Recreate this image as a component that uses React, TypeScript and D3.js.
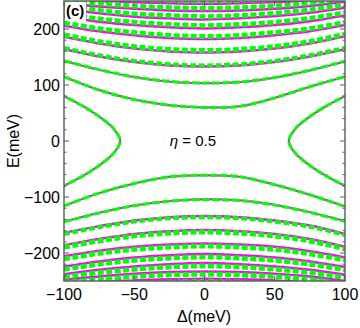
import React from "react";
import * as d3 from "d3";

// Δ sample points (meV)
const deltas = [-100, -75, -50, -25, 0, 25, 50, 75, 100];

// Upper levels E(Δ) in meV (magenta, exact)
const upperLevels = [
  [115, 91, 74, 64, 60, 62, 77, 97, 115],
  [143, 127, 114, 106, 103, 105, 113, 126, 142],
  [164, 151, 141, 135, 133, 135, 141, 151, 164],
  [186, 174, 165, 160, 158, 160, 165, 174, 187],
  [206, 196, 189, 184, 182, 184, 189, 196, 207],
  [222, 213, 207, 203, 201, 203, 207, 214, 224],
  [236, 228, 222, 219, 217, 219, 223, 229, 238],
  [246, 240, 236, 233, 232, 233, 236, 241, 249],
  [256, 251, 248, 246, 245, 246, 248, 252, 259],
];

// Lower levels E(Δ) in meV
const lowerLevels = [
  [-116, -93, -76, -64, -61, -64, -78, -96, -117],
  [-144, -128, -115, -107, -104, -106, -114, -127, -143],
  [-164, -152, -142, -136, -134, -136, -142, -151, -166],
  [-186, -175, -166, -161, -159, -161, -166, -175, -189],
  [-206, -196, -189, -185, -183, -185, -189, -197, -208],
  [-224, -215, -208, -204, -202, -204, -208, -215, -225],
  [-238, -230, -224, -220, -218, -220, -224, -230, -239],
  [-248, -242, -237, -234, -233, -234, -237, -242, -250],
  [-258, -252, -249, -247, -246, -247, -249, -253, -260],
];

// shift (meV) of the green dashed approximation away from zero, per level
const greenShift = [0, 0.5, 2, 3.5, 4.5, 5, 5, 5, 5];

// Hyperbola-like zero-mode branches: Δ(E)
const hypE = [-84, -60, -40, -20, 0, 20, 40, 60, 84];
const hypLeftD = [-103, -85, -73, -64, -60, -64, -73, -85, -103];
const hypRightD = [103, 85, 73, 64, 60, 64, 73, 85, 103];

const xTicksMajor = [-100, -50, 0, 50, 100];
const yTicksMajor = [-200, -100, 0, 100, 200];

const MAGENTA = "#ff00ff";
const GREEN = "#00ff00";
const FRAME = "#5a5a5a";
const FONT = "'Liberation Sans', Arial, sans-serif";

const fmt = (v: number) => (v < 0 ? "\u2212" + Math.abs(v) : String(v));

export default function App() {
  const left = 64, right = 345, top = 1, bottom = 281;
  const x = d3.scaleLinear().domain([-100, 100]).range([left, right]);
  const y = d3.scaleLinear().domain([-250, 250]).range([bottom, top]);

  const levelLine = (vals: number[], shift: number) =>
    d3
      .line<number>()
      .x((_, i) => x(deltas[i]))
      .y((d) => y(d + Math.sign(d) * shift))
      .curve(d3.curveCatmullRom)(vals) || "";

  const hypLine = (ds: number[]) =>
    d3
      .line<number>()
      .x((d) => x(d))
      .y((_, i) => y(hypE[i]))
      .curve(d3.curveCatmullRom)(ds) || "";

  const greenWidth = (i: number) => (i <= 1 ? 3 : i === 2 ? 4 : 5);
  const magentaWidth = (i: number) => (i <= 1 ? 2 : 2.5);
  const dash = (i: number) => (i <= 1 ? "8,2" : "6,2.5");

  const xMinor = d3.range(-100, 101, 10);
  const yMinor = d3.range(-240, 241, 20);

  const allLevels = [...upperLevels.map((v, i) => ({ v, i })), ...lowerLevels.map((v, i) => ({ v, i }))];

  return (
    <svg
      width={360}
      height={328}
      style={{ position: "absolute", left: 0, top: 0, background: "#fff" }}
      fontFamily={FONT}
    >
      <defs>
        <clipPath id="plotclip">
          <rect x={left} y={top} width={right - left} height={bottom - top} />
        </clipPath>
      </defs>
      <rect x={0} y={0} width={360} height={328} fill="#fff" />
      <g clipPath="url(#plotclip)">
        {allLevels.map(({ v, i }, k) => (
          <path key={"m" + k} d={levelLine(v, 0)} fill="none" stroke={MAGENTA} strokeWidth={magentaWidth(i)} />
        ))}
        <path d={hypLine(hypLeftD)} fill="none" stroke={MAGENTA} strokeWidth={2} />
        <path d={hypLine(hypRightD)} fill="none" stroke={MAGENTA} strokeWidth={2} />
        {allLevels.map(({ v, i }, k) => (
          <path
            key={"g" + k}
            d={levelLine(v, greenShift[i])}
            fill="none"
            stroke={GREEN}
            strokeWidth={greenWidth(i)}
            strokeDasharray={dash(i)}
          />
        ))}
        <path d={hypLine(hypLeftD)} fill="none" stroke={GREEN} strokeWidth={3} strokeDasharray="8,2" />
        <path d={hypLine(hypRightD)} fill="none" stroke={GREEN} strokeWidth={3} strokeDasharray="8,2" />
      </g>

      {/* frame */}
      <rect x={left} y={top} width={right - left} height={bottom - top} fill="none" stroke={FRAME} strokeWidth={1.4} />

      {/* x ticks */}
      {xMinor.map((t) => {
        const major = xTicksMajor.includes(t);
        const len = major ? 5 : 2.5;
        return (
          <g key={"xt" + t} stroke={FRAME} strokeWidth={1}>
            <line x1={x(t)} x2={x(t)} y1={bottom} y2={bottom - len} />
            <line x1={x(t)} x2={x(t)} y1={top} y2={top + len} />
          </g>
        );
      })}
      {/* y ticks */}
      {yMinor.map((t) => {
        const major = yTicksMajor.includes(t);
        const len = major ? 5 : 2.5;
        return (
          <g key={"yt" + t} stroke={FRAME} strokeWidth={1}>
            <line x1={left} x2={left + len} y1={y(t)} y2={y(t)} />
            <line x1={right} x2={right - len} y1={y(t)} y2={y(t)} />
          </g>
        );
      })}

      {xTicksMajor.map((t) => (
        <text key={"xl" + t} x={x(t)} y={300} textAnchor="middle" fontSize={16} fill="#000">
          {fmt(t)}
        </text>
      ))}
      {yTicksMajor.map((t) => (
        <text key={"yl" + t} x={60} y={y(t)} dy="0.35em" textAnchor="end" fontSize={16} fill="#000">
          {fmt(t)}
        </text>
      ))}

      <text x={204} y={322} textAnchor="middle" fontSize={16} fill="#000">
        Δ(meV)
      </text>
      <text
        transform={`translate(19,${y(0)}) rotate(-90)`}
        textAnchor="middle"
        fontSize={16}
        fill="#000"
      >
        E(meV)
      </text>

      <text x={193} y={146} textAnchor="middle" fontSize={15} fill="#000">
        <tspan fontStyle="italic">η</tspan> = 0.5
      </text>

      <rect x={left + 1} y={top + 1} width={21} height={19} fill="#fff" />
      <text x={66} y={16} fontSize={15} fontWeight="bold" fill="#000">
        (c)
      </text>
    </svg>
  );
}
